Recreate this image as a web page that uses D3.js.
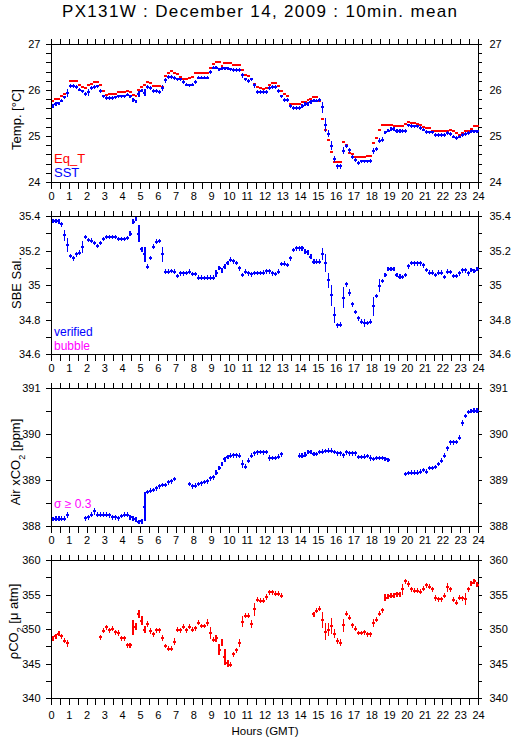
<!DOCTYPE html>
<html><head><meta charset="utf-8">
<script src="https://cdn.jsdelivr.net/npm/d3@7"></script>
<style>
body{margin:0;background:#fff}
svg text{font-family:"Liberation Sans",Arial,Helvetica,sans-serif}
</style>
</head><body>
<svg id="chart" width="515" height="739"></svg>
<script>
// ---------------- DATA (10-minute means, 6 values per hour, GMT) ----------------
const hourTicks = [0,1,2,3,4,5,6,7,8,9,10,11,12,13,14,15,16,17,18,19,20,21,22,23,24];

const eqT = [
 25.77,25.81,25.81,25.87,25.93,25.95, 26.20,26.20,26.20,26.13,26.08,26.06,
 26.11,26.15,26.18,26.18,26.11,25.98, 25.91,25.93,25.93,25.93,25.96,25.96,
 25.96,25.98,25.96,25.91,25.87,26.02, 26.07,26.11,26.18,26.16,26.10,26.10,
 26.10,26.08,26.31,26.39,26.42,26.39, 26.36,26.30,26.26,26.24,26.27,26.29,
 26.39,26.39,26.39,26.39,26.39,26.48, 26.58,26.61,26.61,26.54,26.59,26.59,
 26.59,26.55,26.55,26.55,26.44,26.34, 26.32,26.26,26.15,26.08,26.05,26.04,
 26.06,26.13,26.17,26.17,26.10,25.99, 25.93,25.88,25.71,25.71,25.71,25.71,
 25.74,25.76,25.80,25.82,25.85,25.86, 25.77,25.38,25.15,24.93,24.67,24.45,
 24.44,24.44,24.89,24.82,24.64,24.62, 24.56,24.56,24.56,24.56,24.58,24.58,
 24.86,24.97,25.15,25.24,25.24,25.25, 25.25,25.22,25.22,25.22,25.22,25.28,
 25.31,25.29,25.29,25.28,25.24,25.20, 25.18,25.18,25.11,25.11,25.11,25.11,
 25.11,25.11,25.15,25.13,25.07,25.04, 25.08,25.11,25.11,25.16,25.22,25.22
];
const sst = [
 25.67,25.71,25.72,25.78,25.85,25.95, 26.10,26.10,26.08,26.02,25.98,25.93,
 25.96,26.06,26.08,26.09,25.99,25.87, 25.83,25.84,25.84,25.85,25.87,25.87,
 25.87,25.91,25.87,25.80,25.76,25.93, 26.00,25.95,26.08,26.05,25.99,25.99,
 25.97,26.05,26.22,26.29,26.30,26.27, 26.24,26.24,26.18,26.13,26.11,26.13,
 26.18,26.28,26.28,26.28,26.28,26.40, 26.50,26.50,26.46,26.48,26.48,26.48,
 26.46,26.45,26.45,26.44,26.33,26.24, 26.21,26.24,26.11,25.97,25.97,25.97,
 25.97,26.06,26.07,26.07,25.99,25.87, 25.80,25.80,25.67,25.62,25.62,25.62,
 25.67,25.70,25.71,25.75,25.78,25.78, 25.79,25.64,25.25,25.06,24.80,24.51,
 24.35,24.35,24.69,24.80,24.70,24.55, 24.49,24.42,24.46,24.46,24.46,24.47,
 24.69,24.73,24.91,24.93,25.09,25.13, 25.16,25.16,25.12,25.12,25.12,25.12,
 25.24,25.23,25.22,25.22,25.18,25.15, 25.10,25.09,25.09,25.04,25.04,25.04,
 25.04,25.07,25.06,25.00,24.97,25.00, 25.04,25.05,25.08,25.11,25.11,25.11
];
const sstSd = [
 .04,.04,.04,.04,.04,.09, .04,.04,.04,.04,.04,.04,
 .07,.04,.04,.04,.05,.04, .04,.04,.04,.04,.04,.04,
 .04,.04,.04,.04,.04,.07, .04,.08,.04,.04,.04,.04,
 .04,.06,.05,.04,.04,.04, .04,.04,.04,.04,.04,.04,
 .04,.04,.04,.04,.04,.05, .04,.04,.04,.04,.04,.04,
 .04,.04,.04,.04,.05,.04, .04,.04,.05,.04,.04,.04,
 .04,.04,.04,.04,.04,.04, .04,.04,.04,.04,.04,.04,
 .04,.04,.04,.04,.04,.04, .04,.12,.15,.08,.10,.06,
 .06,.06,.08,.04,.05,.04, .04,.05,.04,.04,.04,.04,
 .07,.04,.05,.05,.04,.04, .04,.04,.04,.04,.04,.04,
 .04,.04,.04,.04,.04,.04, .04,.04,.04,.04,.04,.04,
 .04,.04,.04,.04,.04,.04, .04,.04,.04,.04,.04,.04
];

const sal = [
 35.375,35.375,35.372,35.355,35.29,35.235, 35.17,35.157,35.18,35.19,35.225,35.28,
 35.265,35.26,35.245,35.23,35.245,35.27, 35.28,35.28,35.28,35.28,35.27,35.27,
 35.27,35.275,35.30,35.37,35.385,35.30, 35.21,35.18,35.11,35.16,35.225,35.254,
 35.258,35.18,35.08,35.08,35.085,35.08, 35.056,35.07,35.07,35.073,35.08,35.066,
 35.066,35.045,35.045,35.043,35.045,35.045, 35.045,35.07,35.10,35.087,35.11,35.13,
 35.15,35.14,35.13,35.10,35.06,35.08, 35.07,35.065,35.073,35.073,35.073,35.075,
 35.082,35.082,35.07,35.066,35.08,35.124, 35.127,35.12,35.157,35.205,35.215,35.215,
 35.215,35.196,35.19,35.167,35.138,35.138, 35.138,35.18,35.13,35.03,34.944,34.83,
 34.77,34.773,34.93,35.007,34.957,34.89, 34.846,34.81,34.79,34.783,34.783,34.79,
 34.88,34.94,35.0,35.027,35.06,35.095, 35.095,35.095,35.06,35.05,35.05,35.06,
 35.112,35.13,35.128,35.128,35.128,35.116, 35.09,35.074,35.074,35.06,35.074,35.074,
 35.05,35.08,35.078,35.056,35.056,35.07, 35.087,35.087,35.07,35.09,35.083,35.095
];
const salSd = [
 .013,.013,.013,.013,.03,.04, .013,.013,.013,.013,.035,.013,
 .013,.013,.013,.013,.013,.013, .013,.013,.013,.013,.013,.013,
 .013,.013,.015,.015,.013,.05, .013,.045,.013,.013,.013,.013,
 .013,.045,.013,.013,.013,.013, .013,.013,.013,.013,.013,.013,
 .013,.013,.013,.013,.013,.013, .013,.02,.013,.013,.013,.013,
 .013,.013,.013,.015,.013,.013, .013,.013,.013,.013,.013,.013,
 .013,.013,.013,.013,.013,.013, .013,.013,.013,.013,.013,.013,
 .013,.013,.013,.013,.013,.013, .013,.035,.05,.045,.06,.045,
 .015,.015,.06,.013,.02,.013, .013,.013,.013,.025,.013,.013,
 .055,.013,.04,.013,.013,.013, .013,.013,.013,.015,.013,.013,
 .015,.013,.013,.013,.013,.013, .013,.013,.013,.013,.013,.013,
 .013,.013,.013,.013,.013,.013, .013,.013,.013,.013,.013,.013
];

const xco2 = [
 388.16,388.17,388.17,388.17,388.17,388.25, null,null,null,null,null,388.18,
 388.20,388.26,388.33,388.26,388.26,388.26, 388.26,388.24,388.20,388.20,388.18,388.23,
 388.26,388.26,388.20,388.17,388.15,388.10, 388.11,388.43,388.75,388.78,388.79,388.83,
 388.87,388.90,388.90,388.96,388.98,389.03, null,null,null,null,388.92,388.87,
 388.89,388.92,388.94,388.97,388.98,389.05, 389.07,389.17,389.27,389.36,389.46,389.51,
 389.54,389.55,389.55,389.54,389.36,389.30, 389.43,389.54,389.59,389.61,389.62,389.61,
 389.62,389.49,389.49,389.49,389.52,389.57, null,null,null,null,null,389.54,
 389.54,389.56,389.62,389.62,389.58,389.58, 389.62,389.63,389.64,389.65,389.65,389.62,
 389.59,389.59,389.55,389.61,389.59,389.59, 389.59,389.51,389.51,389.52,389.53,389.49,
 389.47,389.49,389.49,389.49,389.47,389.45, null,null,null,null,null,389.14,
 389.16,389.17,389.17,389.17,389.19,389.23, 389.19,389.27,389.27,389.29,389.36,389.43,
 389.54,389.70,389.83,389.83,389.84,389.93, 390.25,390.40,390.49,390.51,390.52,390.52
];
const xco2Sd = [
 .05,.05,.05,.05,.05,.06, 0,0,0,0,0,.05,
 .05,.05,.07,.05,.05,.05, .05,.05,.05,.06,.05,.05,
 .05,.05,.05,.05,.05,.05, .05,.31,.05,.05,.05,.05,
 .05,.05,.05,.05,.05,.05, 0,0,0,0,.05,.05,
 .05,.05,.05,.05,.05,.05, .05,.05,.05,.05,.05,.05,
 .05,.05,.05,.05,.08,.05, .05,.05,.05,.05,.05,.05,
 .05,.06,.05,.05,.05,.05, 0,0,0,0,0,.05,
 .05,.05,.05,.05,.05,.05, .05,.05,.05,.05,.05,.05,
 .05,.05,.05,.05,.05,.05, .05,.05,.05,.05,.05,.06,
 .05,.05,.05,.05,.05,.05, 0,0,0,0,0,.05,
 .05,.05,.05,.05,.05,.05, .05,.05,.05,.05,.05,.05,
 .06,.05,.05,.05,.05,.05, .07,.05,.05,.05,.05,.05
];

const pco2 = [
 348.7,349.0,349.4,349.0,348.4,348.0, null,null,null,null,null,null,
 null,null,null,null,348.9,349.8, 350.3,349.9,350.1,349.6,349.5,348.7,
 348.7,347.7,347.7,350.3,350.5,352.2, 351.3,350.0,350.8,349.8,349.3,349.9,
 349.9,348.8,347.6,347.2,347.2,348.2, 350.0,349.9,350.4,349.9,350.4,350.0,
 350.2,351.0,350.5,350.5,351.0,349.5, 348.5,348.7,347.1,348.1,346.0,345.1,
 344.9,346.4,347.0,348.0,351.1,352.0, 352.0,350.8,352.9,354.3,354.2,354.2,
 354.7,355.4,355.4,355.2,355.2,354.9, null,null,null,null,null,null,
 null,null,null,null,352.2,352.7, 353.0,351.4,349.7,350.0,350.5,349.4,
 348.3,348.1,350.6,352.3,351.7,350.6, 350.1,349.5,349.5,349.6,349.3,349.3,
 350.9,351.4,352.3,352.8,354.6,354.8, 354.9,354.9,355.1,355.1,355.8,357.0,
 356.6,355.8,355.6,355.6,355.5,355.9, 356.4,356.2,355.8,354.6,354.4,354.4,
 354.9,356.1,355.8,354.3,353.9,354.6, 354.5,354.4,355.8,356.7,357.0,356.5
];
const pco2Sd = [
 .35,.35,.35,.4,.35,.5, 0,0,0,0,0,0,
 0,0,0,0,.35,.35, .35,.35,.35,.35,.5,.35,
 .35,.35,.35,1.1,.5,.6, .6,.5,.5,.4,.35,.35,
 .35,.4,.35,.35,.35,.5, .4,.35,.35,.35,.35,.35,
 .35,.35,.35,.35,.5,.9, .35,.5,.8,.5,1.2,.5,
 .35,.35,.35,.6,.8,.35, .35,.6,1.0,.35,.35,.35,
 .4,.35,.35,.35,.35,.35, 0,0,0,0,0,0,
 0,0,0,0,.35,.35, .35,1.2,1.2,1.0,1.1,.7,
 .4,.5,.9,.35,.35,.35, .35,.35,.35,.35,.35,.35,
 .6,.35,.35,.35,.5,.35, .35,.35,.35,.35,.8,.35,
 .4,.35,.35,.35,.35,.35, .35,.35,.35,.4,.35,.35,
 .35,.6,.35,.35,.35,.35, .35,.9,.4,.35,.35,.4
];

// y-axis tick labels per panel
const tempLabels = [24,25,26,27];
const salLabels  = [34.6,34.8,35.0,35.2,35.4];
const xco2Labels = [388,389,390,391];
const pco2Labels = [340,345,350,355,360];

// ---------------- LAYOUT ----------------
const BLUE = "#0000ff", RED = "#ff0000", MAGENTA = "#ff00ff";
const X0 = 51.5, X1 = 478.5, PH = 138;
const tops = [44.5, 216.5, 388.5, 560.5];
const svg = d3.select("#chart");
svg.append("rect").attr("width",515).attr("height",739).attr("fill","#fff");

const x = d3.scaleLinear().domain([0,24]).range([X0, X1]);
const halfHours = d3.range(0, 49).map(i => i/2);

const minorTicks = (lo, step, n) => d3.range(0, n+1).map(i => +(lo + i*step).toFixed(4));

const panels = [
  {domain:[24,27], minor:minorTicks(24,0.2,15), labels:tempLabels,
   title:[{t:"Temp. [°C]"}], titleX:21, titleY:119.5,
   series:[{v:eqT, sd:null, c:RED},{v:sst, sd:sstSd, c:BLUE}],
   legend:[{t:"Eq_T", c:RED, y:163},{t:"SST", c:BLUE, y:177}], legendSize:13},
  {domain:[34.6,35.4], minor:minorTicks(34.6,0.1,8), labels:salLabels,
   title:[{t:"SBE Sal."}], titleX:21, titleY:283,
   series:[{v:sal, sd:salSd, c:BLUE}],
   legend:[{t:"verified", c:BLUE, y:336},{t:"bubble", c:MAGENTA, y:349.5}], legendSize:12},
  {domain:[388,391], minor:minorTicks(388,0.5,6), labels:xco2Labels,
   title:[{t:"Air xCO"},{t:"2",sub:true},{t:" [ppm]"}], titleX:20, titleY:462,
   series:[{v:xco2, sd:xco2Sd, c:BLUE}],
   legend:[{t:"σ ≥ 0.3", c:MAGENTA, y:508}], legendSize:12},
  {domain:[340,360], minor:minorTicks(340,2.5,8), labels:pco2Labels,
   title:[{t:"ρCO"},{t:"2",sub:true},{t:" [μ atm]"}], titleX:18, titleY:621.5,
   series:[{v:pco2, sd:pco2Sd, c:RED}],
   legend:[], legendSize:12}
];

const fmt = d => String(+d.toFixed(1));

panels.forEach((p, pi) => {
  const top = tops[pi], bot = top + PH;
  const y = d3.scaleLinear().domain(p.domain).range([bot, top]);
  const isLab = d => p.labels.some(l => Math.abs(l - d) < 1e-6);
  const g = svg.append("g");

  const styleAxis = sel => {
    sel.selectAll("path,line").attr("stroke","#000").attr("stroke-width",1).attr("shape-rendering","crispEdges");
    sel.selectAll("text").attr("fill","#000").style("font-size","11px")
       .style("font-family","'Liberation Sans',Arial,Helvetica,sans-serif");
    sel.attr("font-family",null).attr("font-size",null);
  };

  g.append("g").attr("transform",`translate(${X0},0)`)
    .call(d3.axisLeft(y).offset(0).tickValues(p.minor).tickSize(6).tickSizeOuter(0).tickPadding(5)
      .tickFormat(d => isLab(d) ? fmt(d) : ""))
    .call(styleAxis);
  g.append("g").attr("transform",`translate(${X1},0)`)
    .call(d3.axisRight(y).offset(0).tickValues(p.minor).tickSize(3).tickSizeOuter(0).tickPadding(8)
      .tickFormat(d => isLab(d) ? fmt(d) : ""))
    .call(styleAxis);
  g.append("g").attr("transform",`translate(0,${top})`)
    .call(d3.axisTop(x).offset(0).tickValues(halfHours).tickSize(6).tickSizeOuter(0).tickFormat(""))
    .call(styleAxis);
  g.append("g").attr("transform",`translate(0,${bot})`)
    .call(d3.axisBottom(x).offset(0).tickValues(halfHours).tickSize(6).tickSizeOuter(0)
      .tickPadding(pi === 3 ? 7 : 4)
      .tickFormat(d => hourTicks.includes(d) ? String(d) : ""))
    .call(styleAxis);

  // data: horizontal 10-min segment + vertical std-dev bar
  p.series.forEach(s => {
    const sg = g.append("g").attr("stroke", s.c).attr("shape-rendering","crispEdges");
    s.v.forEach((v, i) => {
      if (v === null) return;
      sg.append("line").attr("stroke-width", 2)
        .attr("x1", x(i/6)).attr("x2", x((i+1)/6)).attr("y1", y(v)).attr("y2", y(v));
      const sd = s.sd ? s.sd[i] : 0;
      if (sd > 0) {
        const xc = x((i+0.5)/6);
        sg.append("line").attr("stroke-width", 1.2)
          .attr("x1", xc).attr("x2", xc).attr("y1", y(v - sd)).attr("y2", y(v + sd));
      }
    });
  });

  // legend
  p.legend.forEach(l => {
    g.append("text").attr("x", 54).attr("y", l.y).attr("fill", l.c)
      .style("font-size", p.legendSize + "px").text(l.t);
  });

  // y title
  const t = g.append("text").attr("transform", `translate(${p.titleX},${p.titleY}) rotate(-90)`)
    .attr("text-anchor","middle").attr("fill","#000").style("font-size","13px");
  p.title.forEach(part => {
    const ts = t.append("tspan").text(part.t);
    if (part.sub) ts.attr("baseline-shift","sub").style("font-size","9px");
  });
});

// title and x-axis title
svg.append("text").attr("x", 259.5).attr("y", 17).attr("text-anchor","middle")
  .attr("textLength", 395).attr("lengthAdjust","spacing")
  .style("font-size","17px").attr("fill","#000").text("PX131W : December 14, 2009 : 10min. mean");
svg.append("text").attr("x", 265).attr("y", 735).attr("text-anchor","middle")
  .style("font-size","11.5px").attr("fill","#000").text("Hours (GMT)");
</script>
</body></html>
